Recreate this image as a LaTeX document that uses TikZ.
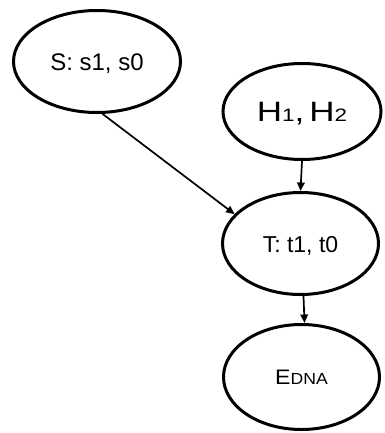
\documentclass[tikz,border=0pt]{standalone}
\usepackage{fontspec}
\setmainfont{Liberation Sans}
\usetikzlibrary{shapes.geometric,arrows.meta}

\tikzset{
  state/.style={ellipse, draw=black, line width=3pt, inner sep=0pt,
    text height=0pt, text depth=0pt, font=\fontsize{23}{26}\selectfont},
  link/.style={line width=1.7pt, -{Triangle[length=8.5pt,width=7.5pt]}}
}

\begin{document}
\begin{tikzpicture}[x=1pt,y=-1pt]
  \useasboundingbox (0,0) rectangle (384,433);

  % variables of the network
  \node[state, minimum width=167pt, minimum height=102pt] (S) at (97,61.5)
    {\raisebox{-8.6pt}{\fontsize{24}{28}\selectfont S: s1, s0}};
  \node[state, minimum width=158pt, minimum height=96pt] (H) at (302,111.5)
    {\raisebox{-10pt}{\scalebox{1.25}[1]{\fontsize{28}{32}\selectfont H{\fontsize{18}{20}\selectfont 1},\kern4pt H{\fontsize{18}{20}\selectfont 2}}}};
  \node[state, minimum width=156pt, minimum height=102pt] (T) at (300.5,243.5)
    {\raisebox{-9pt}{\fontsize{23}{26}\selectfont T: t1, t0}};
  \node[state, minimum width=156pt, minimum height=105pt] (E) at (301.5,377)
    {\raisebox{-7.2pt}{\scalebox{1.1}[1]{\fontsize{21}{24}\selectfont E{\fontsize{16}{18}\selectfont DNA}}}};

  % dependencies
  \draw[link] (S.276) -- (T.156);
  \draw[link] (H.south) -- (T.north);
  \draw[link] ([xshift=3pt]T.south) -- ([xshift=3pt]E.north);
\end{tikzpicture}
\end{document}
